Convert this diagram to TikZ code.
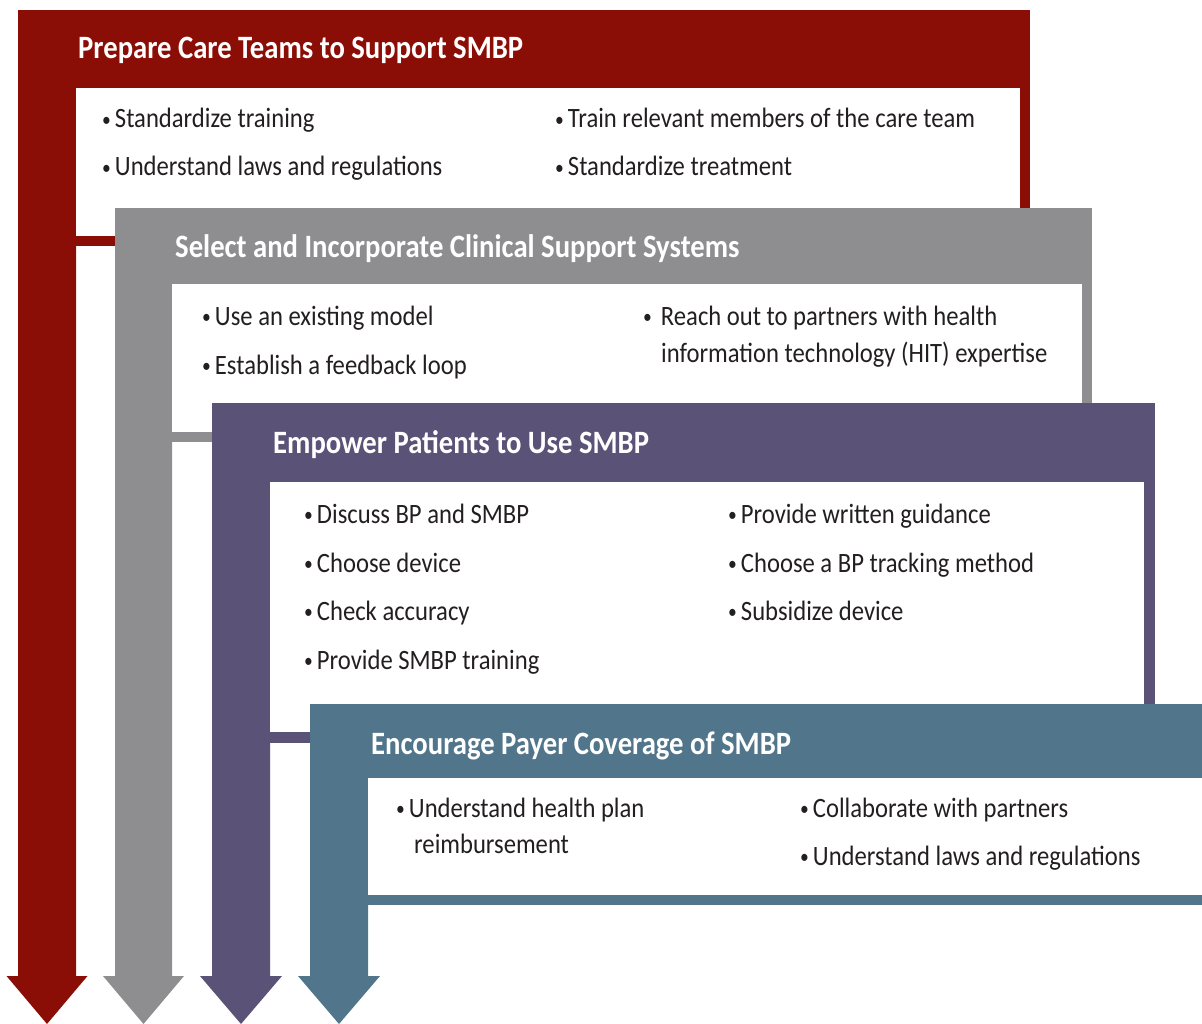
\documentclass[tikz,border=0pt]{standalone}
\usepackage{fontspec}
\setmainfont{Carlito}[FakeStretch=0.88]

\definecolor{prepred}{RGB}{139,14,6}
\definecolor{sysgray}{RGB}{142,142,144}
\definecolor{patpurple}{RGB}{91,82,119}
\definecolor{payblue}{RGB}{81,117,138}
\definecolor{itemtext}{RGB}{35,31,32}

\newcommand{\bdot}{\raisebox{1.5pt}{\fontsize{20}{20}\selectfont\textbullet}}
\newcommand{\bul}{\bdot\hspace{4pt}}

\begin{document}
\begin{tikzpicture}[x=1pt,y=-1pt,
    headtext/.style={anchor=base west,inner sep=0pt,text=white,font=\fontsize{32.6}{38}\selectfont\bfseries},
    itemtext/.style={anchor=base west,inner sep=0pt,text=itemtext,font=\fontsize{28}{36}\selectfont}]
        \useasboundingbox (0,0) rectangle (1202,1024);

        % prepare care teams
        \fill[prepred] (18,10) rectangle (1030,246);
        \fill[prepred] (18,246) -- (18,976) -- (6.5,976) -- (47,1024) -- (87.5,976) -- (76,976) -- (76,246) -- cycle;
        \fill[white] (76,88) rectangle (1020,236);
        \node[headtext] (prephead) at (78,59) {Prepare Care Teams to Support SMBP};
        \node[itemtext] (prepa) at (102,128) {\bul Standardize training};
        \node[itemtext] (prepb) at (102,176) {\bul Understand laws and regulations};
        \node[itemtext] (prepc) at (555,128) {\bul Train relevant members of the care team};
        \node[itemtext] (prepd) at (555,176) {\bul Standardize treatment};

        % clinical support systems
        \fill[sysgray] (115,208) rectangle (1092,442);
        \fill[sysgray] (115,442) -- (115,976) -- (103,976) -- (143.5,1024) -- (184,976) -- (172,976) -- (172,442) -- cycle;
        \fill[white] (172,284) rectangle (1082,432);
        \node[headtext] (syshead) at (175,258) {Select and Incorporate Clinical Support Systems};
        \node[itemtext] (sysa) at (202,325) {\bul Use an existing model};
        \node[itemtext] (sysb) at (202,374) {\bul Establish a feedback loop};
        \node[itemtext] (sysc) at (643,325) {\bdot\hspace{9pt}Reach out to partners with health};
        \node[itemtext] (sysd) at (661,362) {information technology (HIT) expertise};

        % empower patients
        \fill[patpurple] (212,403) rectangle (1155,743);
        \fill[patpurple] (212,743) -- (212,976) -- (200,976) -- (241,1024) -- (282,976) -- (270,976) -- (270,743) -- cycle;
        \fill[white] (270,482) rectangle (1144,732);
        \node[headtext] (pathead) at (273,453) {Empower Patients to Use SMBP};
        \node[itemtext] (pata) at (304,523) {\bul Discuss BP and SMBP};
        \node[itemtext] (patb) at (304,572) {\bul Choose device};
        \node[itemtext] (patc) at (304,620) {\bul Check accuracy};
        \node[itemtext] (patd) at (304,669) {\bul Provide SMBP training};
        \node[itemtext] (pate) at (728,523) {\bul Provide written guidance};
        \node[itemtext] (patf) at (728,572) {\bul Choose a BP tracking method};
        \node[itemtext] (patg) at (728,620) {\bul Subsidize device};

        % payer coverage
        \fill[payblue] (310,704) rectangle (1202,905);
        \fill[payblue] (310,905) -- (310,976) -- (298,976) -- (339,1024) -- (380,976) -- (368,976) -- (368,905) -- cycle;
        \fill[white] (368,778) rectangle (1202,895);
        \node[headtext] (payhead) at (371,754) {Encourage Payer Coverage of SMBP};
        \node[itemtext] (paya) at (396,817) {\bul Understand health plan};
        \node[itemtext] (payb) at (414,853) {reimbursement};
        \node[itemtext] (payc) at (800,817) {\bul Collaborate with partners};
        \node[itemtext] (payd) at (800,865) {\bul Understand laws and regulations};
\end{tikzpicture}
\end{document}
